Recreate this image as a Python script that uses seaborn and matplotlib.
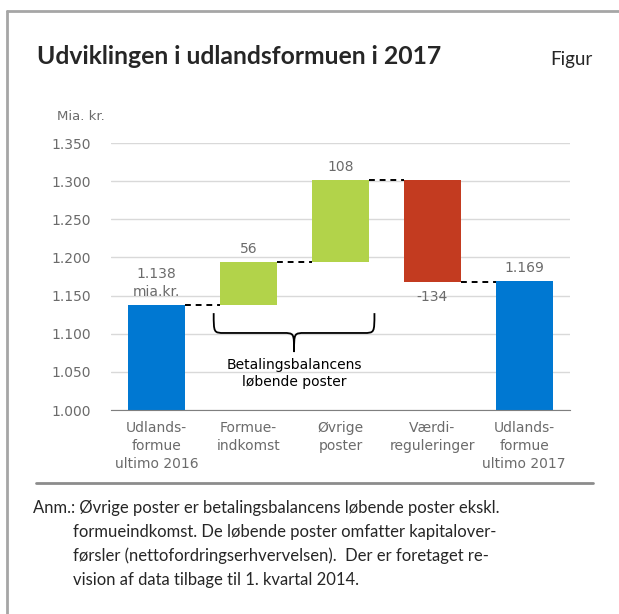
import numpy as np
import pandas as pd
import seaborn as sns
import matplotlib.pyplot as plt
from matplotlib.path import Path
from matplotlib.patches import PathPatch
from matplotlib.lines import Line2D

categories = ["Udlands-\nformue\nultimo 2016", "Formue-\nindkomst", "Øvrige\nposter",
              "Værdi-\nreguleringer", "Udlands-\nformue\nultimo 2017"]
values = [1138, 56, 108, -134, 1169]
kinds = ["total", "delta", "delta", "delta", "total"]
value_labels = ["1.138\nmia.kr.", "56", "108", "-134", "1.169"]
yticks = [1000, 1050, 1100, 1150, 1200, 1250, 1300, 1350]
note_lines = [
    "Anm.: Øvrige poster er betalingsbalancens løbende poster ekskl.",
    "formueindkomst. De løbende poster omfatter kapitalover-",
    "førsler (nettofordringserhvervelsen).  Der er foretaget re-",
    "vision af data tilbage til 1. kvartal 2014.",
]

BLUE = "#0078D2"
GREEN = "#B2D34A"
RED = "#C33B20"
GREY_TXT = "#6b6b6b"

# waterfall bases
bases, running = [], 0
for v, k in zip(values, kinds):
    if k == "total":
        bases.append(0)
        running = v
    else:
        bases.append(running)
        running += v
colors = [BLUE if k == "total" else (GREEN if v > 0 else RED) for v, k in zip(values, kinds)]

df = pd.DataFrame({"kategori": categories, "vaerdi": values, "bund": bases})

sns.set_style("white")
plt.rcParams["font.family"] = ["DejaVu Sans"]

fig = plt.figure(figsize=(6.19, 6.14), dpi=100)
ax = fig.add_axes([0.179, 0.3322, 0.742, 0.4349])

sns.barplot(data=df, x="kategori", y="vaerdi", bottom=df["bund"].values,
            width=0.62, ax=ax, errorbar=None, color=BLUE, saturation=1)
for p, c in zip(ax.patches, colors):
    p.set_facecolor(c)
    p.set_edgecolor("none")
    p.set_zorder(3)

ax.set_xlim(-0.5, 4.5)
ax.set_ylim(1000, 1350)
ax.set_yticks(yticks)
ax.set_yticklabels([f"{t:,}".replace(",", ".") for t in yticks], color=GREY_TXT, fontsize=10)
ax.tick_params(axis="y", length=0, pad=14)
ax.set_xticks(range(len(categories)))
ax.set_xticklabels(categories, color=GREY_TXT, fontsize=10, linespacing=1.35)
ax.tick_params(axis="x", length=0, pad=8)
ax.set_xticks(np.arange(-0.5, 5, 1), minor=True)
ax.tick_params(axis="x", which="minor", direction="in", length=5, color="#7f7f7f")
ax.grid(axis="y", color="#d9d9d9", lw=1, zorder=0)
ax.set_axisbelow(True)
ax.set_xlabel("")
ax.set_ylabel("")
for s in ["left", "right", "top"]:
    ax.spines[s].set_visible(False)
ax.spines["bottom"].set_color("#7f7f7f")
ax.spines["bottom"].set_zorder(5)

# connectors
hw = 0.31
running = 0
for i, (v, k) in enumerate(zip(values, kinds)):
    running = v if k == "total" else running + v
    if i < len(values) - 1:
        ax.plot([i + hw, i + 1 - hw], [running, running], color="black",
                lw=1.4, ls=(0, (3, 2.5)), zorder=4)

# value labels
for i, (v, b, lab) in enumerate(zip(values, bases, value_labels)):
    top = b + v
    if v < 0:
        ax.text(i, top - 11, lab, ha="center", va="top", color=GREY_TXT, fontsize=10)
    else:
        ax.text(i, top + 8, lab, ha="center", va="bottom", color=GREY_TXT,
                fontsize=10, linespacing=1.35)

# brace under the current account items
x0, x1 = 1 - 0.38, 2 + 0.37
xc = (x0 + x1) / 2
ytop, ymid, ytip = 1127, 1101, 1076
verts = [(x0, ytop), (x0, ymid), (x0, ymid), (x0 + 0.12, ymid),
         (xc - 0.12, ymid),
         (xc, ymid), (xc, ymid), (xc, ytip),
         (xc, ymid), (xc, ymid), (xc + 0.12, ymid),
         (x1 - 0.12, ymid),
         (x1, ymid), (x1, ymid), (x1, ytop)]
codes = [Path.MOVETO, Path.CURVE4, Path.CURVE4, Path.CURVE4,
         Path.LINETO,
         Path.CURVE4, Path.CURVE4, Path.CURVE4,
         Path.CURVE4, Path.CURVE4, Path.CURVE4,
         Path.LINETO,
         Path.CURVE4, Path.CURVE4, Path.CURVE4]
ax.add_patch(PathPatch(Path(verts, codes), fill=False, lw=1.3, color="black", zorder=4))
ax.text(xc, 1068, "Betalingsbalancens\nløbende poster", ha="center", va="top",
        fontsize=10, color="black", linespacing=1.3)

# header / footer texts
fig.text(37 / 619, 1 - 57 / 614, "Udviklingen i udlandsformuen i 2017", fontsize=17.8,
         fontweight="bold", family=["Lato", "DejaVu Sans"], va="center", ha="left")
fig.text(550 / 619, 1 - 60 / 614, "Figur", fontsize=13.5, family=["Lato", "DejaVu Sans"],
         va="center", ha="left")
fig.text(57 / 619, 1 - 117 / 614, "Mia. kr.", fontsize=9.5, color=GREY_TXT,
         va="center", ha="left")
note_y = [508, 532, 556, 580]
for j, (line, yy) in enumerate(zip(note_lines, note_y)):
    xx = 33 if j == 0 else 73
    fig.text(xx / 619, 1 - yy / 614, line, fontsize=12, family=["Lato", "DejaVu Sans"],
             va="center", ha="left")

# frame lines
frame = "#a6a6a6"
fig.add_artist(Line2D([7 / 619, 7 / 619], [0, 1 - 11 / 614], color=frame, lw=2))
fig.add_artist(Line2D([7 / 619, 1], [1 - 11 / 614, 1 - 11 / 614], color=frame, lw=2))
fig.add_artist(Line2D([36 / 619, 593 / 619], [1 - 483 / 614, 1 - 483 / 614], color="#8c8c8c", lw=2))

fig.savefig("out.png", dpi=100)
